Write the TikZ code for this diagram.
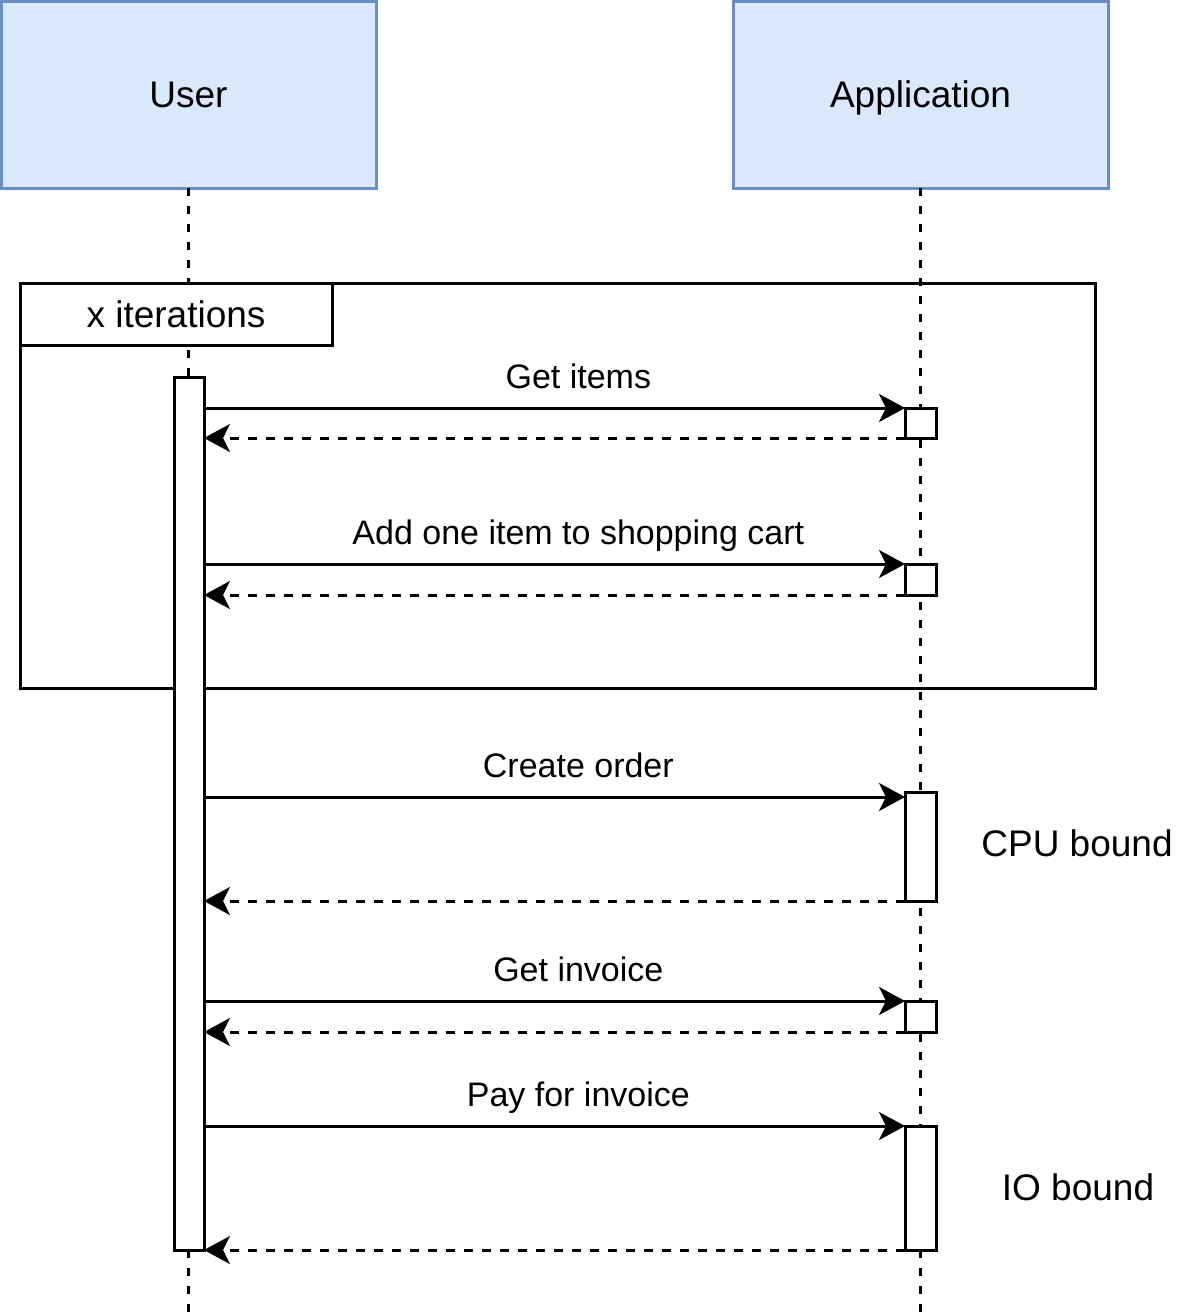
\documentclass[tikz,border=0pt]{standalone}
\usepackage{fontspec}
\setmainfont{Liberation Sans}
\usepackage{tikz}
\usetikzlibrary{arrows.meta,positioning}
\definecolor{boxfill}{HTML}{DAE8FC}
\definecolor{boxline}{HTML}{6C8EBF}

\begin{document}
\begin{tikzpicture}[x=0.5pt,y=-0.5pt,line width=1.5pt,
  big/.style={font=\fontsize{18.5}{22}\selectfont, text height=13.25pt, text depth=0pt},
  actor/.style={big, draw=boxline, fill=boxfill, outer sep=0pt, minimum width=187.5pt, minimum height=93.5pt},
  act/.style={draw, fill=white, inner sep=0pt, outer sep=0pt, minimum width=15.5pt},
  life/.style={dash pattern=on 4pt off 5pt},
  msg/.style={-{Stealth[length=13pt,width=14pt,inset=3.5pt]}},
  ret/.style={msg, dash pattern=on 4.5pt off 4.5pt},
  lbl/.style={pos=0.534, anchor=base, yshift=10pt, font=\fontsize{17}{20}\selectfont}]
\useasboundingbox (0,0) rectangle (1189,1314);

\node[actor] (U) at (188.5,94.5) {User};
\node[actor] (A) at (920.5,94.5) {Application};
\coordinate (Uend) at (188.5,1314);
\coordinate (Aend) at (920.5,1314);
\draw[life] (U.south) -- (Uend);
\draw[life] (A.south) -- (Aend);

\node[draw, minimum width=537.5pt, minimum height=202.5pt] (L) at (557.5,485.5) {};
\node[big, draw, fill=white, minimum width=156pt, minimum height=31pt, anchor=north west] (Lt) at (L.north west) {x iterations};

\node[act, minimum width=15pt, minimum height=436.5pt] (u) at (189,813.5) {};
\node[act, minimum height=15pt] (a1) at (920.5,423) {};
\node[act, minimum height=15.5pt] (a2) at (920.5,579.5) {};
\node[act, minimum height=54.5pt] (a3) at (920.5,846.5) {};
\node[act, minimum height=15.5pt] (a4) at (920.5,1016.5) {};
\node[act, minimum height=62pt] (a5) at (920.5,1188) {};
\coordinate (a3in) at ([yshift=-2.5pt]a3.north west);

\node[big] (cpu) at (1077,843) {CPU bound};
\node[big] (io) at (1078,1187) {IO bound};

\draw[msg] (u.east |- a1.north west) -- node[lbl] {Get items} (a1.north west);
\draw[ret] (a1.south west) -- (u.east |- a1.south west);
\draw[msg] (u.east |- a2.north west) -- node[lbl] {Add one item to shopping cart} (a2.north west);
\draw[ret] (a2.south west) -- (u.east |- a2.south west);
\draw[msg] (u.east |- a3in) -- node[lbl] {Create order} (a3in);
\draw[ret] (a3.south west) -- (u.east |- a3.south west);
\draw[msg] (u.east |- a4.north west) -- node[lbl] {Get invoice} (a4.north west);
\draw[ret] (a4.south west) -- (u.east |- a4.south west);
\draw[msg] (u.east |- a5.north west) -- node[lbl] {Pay for invoice} (a5.north west);
\draw[ret] (a5.south west) -- (u.east |- a5.south west);

\end{tikzpicture}
\end{document}
